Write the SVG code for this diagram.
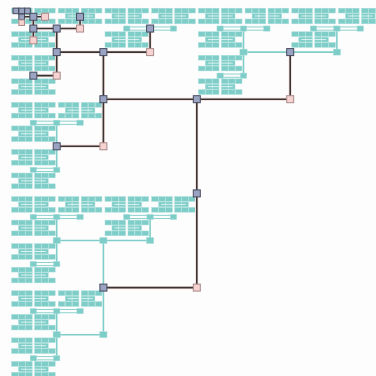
<svg xmlns="http://www.w3.org/2000/svg" width="376" height="376" viewBox="0 0 376 376">
<defs>
<style>
.b{fill:#7fcdc8;stroke:#a9dfdb;stroke-width:0.5}
.w{stroke:#e4f5f4;stroke-width:0.9}
.tl{fill:none;stroke:#80cec9;stroke-width:1.6}
.halo{fill:none;stroke:#f5e1df;stroke-width:3.4}
.dk{fill:none;stroke:#383434;stroke-width:1.6}
.nb{fill:#9aa4c2;stroke:#464b5e;stroke-width:1}
.np{fill:#f6d3d0;stroke:#a98a8a;stroke-width:1}
.cn{fill:#fdfdfd;stroke:#80cec9;stroke-width:0.9}
.tn{fill:#7fcdc8;stroke:#a9dfdb;stroke-width:0.5}
</style>
<g id="gp">
<rect class="b" x="1.6" y="3.2" width="6.6" height="4.8"/>
<rect class="b" x="8.6" y="3.2" width="6.6" height="4.8"/>
<rect class="b" x="15.6" y="3.2" width="6.6" height="4.8"/>
<rect class="b" x="24.6" y="3.2" width="6.6" height="4.8"/>
<rect class="b" x="31.6" y="3.2" width="6.6" height="4.8"/>
<rect class="b" x="38.6" y="3.2" width="6.6" height="4.8"/>
<rect class="b" x="8.6" y="8.6" width="6.6" height="4.8"/>
<rect class="b" x="15.6" y="8.6" width="6.6" height="4.8"/>
<rect class="b" x="24.6" y="8.6" width="6.6" height="4.8"/>
<rect class="b" x="31.6" y="8.6" width="6.6" height="4.8"/>
<line class="w" x1="11" y1="11" x2="36" y2="11"/>
<rect class="b" x="1.6" y="14" width="6.6" height="4.8"/>
<rect class="b" x="8.6" y="14" width="6.6" height="4.8"/>
<rect class="b" x="15.6" y="14" width="6.6" height="4.8"/>
<rect class="b" x="24.6" y="14" width="6.6" height="4.8"/>
<rect class="b" x="31.6" y="14" width="6.6" height="4.8"/>
<rect class="b" x="38.6" y="14" width="6.6" height="4.8"/>
</g>
<rect id="tb" class="tn" x="-3.2" y="-2.6" width="6.4" height="5.2"/>
<rect id="tm" class="tn" x="-3.6" y="-3" width="7.2" height="6"/>
<rect id="db" class="nb" x="-3.5" y="-3.5" width="7" height="7"/>
<rect id="dp" class="np" x="-3.5" y="-3.5" width="7" height="7"/>
<rect id="sb" class="nb" x="-2.8" y="-2.8" width="5.6" height="5.6"/>
<rect id="sp" class="np" x="-2.8" y="-2.8" width="5.6" height="5.6"/>
</defs>
<rect width="376" height="376" fill="#fdfdfd"/>

<g id="glyphs">
<use href="#gp" x="10" y="5"/><use href="#gp" x="56.7" y="5"/><use href="#gp" x="103.4" y="5"/><use href="#gp" x="150.1" y="5"/>
<use href="#gp" x="196.8" y="5"/><use href="#gp" x="243.5" y="5"/><use href="#gp" x="290.2" y="5"/><use href="#gp" x="336.9" y="5"/>
<use href="#gp" x="10" y="28.55"/><use href="#gp" x="103.4" y="28.55"/><use href="#gp" x="196.8" y="28.55"/><use href="#gp" x="290.2" y="28.55"/>
<use href="#gp" x="10" y="52.1"/><use href="#gp" x="196.8" y="52.1"/>
<use href="#gp" x="10" y="75.65"/><use href="#gp" x="196.8" y="75.65"/>
<use href="#gp" x="10" y="99.2"/><use href="#gp" x="56.7" y="99.2"/>
<use href="#gp" x="10" y="122.75"/>
<use href="#gp" x="10" y="146.3"/>
<use href="#gp" x="10" y="169.85"/>
<use href="#gp" x="10" y="193.4"/><use href="#gp" x="56.7" y="193.4"/><use href="#gp" x="103.4" y="193.4"/><use href="#gp" x="150.1" y="193.4"/>
<use href="#gp" x="10" y="216.95"/><use href="#gp" x="103.4" y="216.95"/>
<use href="#gp" x="10" y="240.5"/>
<use href="#gp" x="10" y="264.05"/>
<use href="#gp" x="10" y="287.6"/><use href="#gp" x="56.7" y="287.6"/>
<use href="#gp" x="10" y="311.15"/>
<use href="#gp" x="10" y="334.7"/>
<use href="#gp" x="10" y="358.25"/>
</g>

<g id="connectors">
<g id="teal-lines">
<path class="tl" d="M243.5 52.1H336.9 M243.5 28.55V75.65 M336.9 28.55V52.1 M56.7 240.5H150.1 M103.4 240.5V334.7H56.7 M56.7 216.95V264.05 M150.1 216.95V240.5 M56.7 311.15V358.25 M56.7 122.75V169.85"/>
<rect class="cn" x="126.75" y="26.95" width="46.7" height="3.2"/>
<rect class="cn" x="220.15" y="26.95" width="46.7" height="3.2"/>
<rect class="cn" x="313.55" y="26.95" width="46.7" height="3.2"/>
<rect class="cn" x="220.15" y="74.05" width="23.35" height="3.2"/>
<rect class="cn" x="33.35" y="121.15" width="46.7" height="3.2"/>
<rect class="cn" x="33.35" y="168.25" width="23.35" height="3.2"/>
<rect class="cn" x="33.35" y="215.35" width="46.7" height="3.2"/>
<rect class="cn" x="126.75" y="215.35" width="46.7" height="3.2"/>
<rect class="cn" x="33.35" y="262.45" width="23.35" height="3.2"/>
<rect class="cn" x="33.35" y="309.55" width="46.7" height="3.2"/>
<rect class="cn" x="33.35" y="356.65" width="23.35" height="3.2"/>
</g>
<g id="dark-lines">
<path class="halo" d="M103.4 99.2H290.2V52.1 M196.8 99.2V287.6H103.4 M103.4 52.1V146.3H56.7 M56.7 52.1H150.1V28.55 M56.7 28.55V75.65H33.35 M33.35 28.55H80.05V16.78 M33.35 16.78V40.33 M21.68 16.78H45.03 M15.84 10.89H27.51 M21.68 10.89V22.66"/>
<path class="dk" d="M103.4 99.2H290.2V52.1 M196.8 99.2V287.6H103.4 M103.4 52.1V146.3H56.7 M56.7 52.1H150.1V28.55 M56.7 28.55V75.65H33.35 M33.35 28.55H80.05V16.78 M33.35 16.78V40.33 M21.68 16.78H45.03 M15.84 10.89H27.51 M21.68 10.89V22.66"/>
</g>
</g>

<g id="teal-nodes">
<use href="#tb" x="126.75" y="28.55"/><use href="#tb" x="173.45" y="28.55"/>
<use href="#tb" x="220.15" y="28.55"/><use href="#tb" x="243.5" y="28.55"/><use href="#tb" x="266.85" y="28.55"/>
<use href="#tb" x="313.55" y="28.55"/><use href="#tb" x="336.9" y="28.55"/><use href="#tb" x="360.25" y="28.55"/>
<use href="#tb" x="220.15" y="75.65"/><use href="#tb" x="243.5" y="75.65"/>
<use href="#tb" x="33.35" y="122.75"/><use href="#tb" x="56.7" y="122.75"/><use href="#tb" x="80.05" y="122.75"/>
<use href="#tb" x="33.35" y="169.85"/><use href="#tb" x="56.7" y="169.85"/>
<use href="#tb" x="33.35" y="216.95"/><use href="#tb" x="56.7" y="216.95"/><use href="#tb" x="80.05" y="216.95"/>
<use href="#tb" x="126.75" y="216.95"/><use href="#tb" x="150.1" y="216.95"/><use href="#tb" x="173.45" y="216.95"/>
<use href="#tb" x="33.35" y="264.05"/><use href="#tb" x="56.7" y="264.05"/>
<use href="#tb" x="33.35" y="311.15"/><use href="#tb" x="56.7" y="311.15"/><use href="#tb" x="80.05" y="311.15"/>
<use href="#tb" x="33.35" y="358.25"/><use href="#tb" x="56.7" y="358.25"/>
<use href="#tm" x="243.5" y="52.1"/><use href="#tm" x="336.9" y="52.1"/>
<use href="#tm" x="56.7" y="240.5"/><use href="#tm" x="103.4" y="240.5"/><use href="#tm" x="150.1" y="240.5"/>
<use href="#tm" x="103.4" y="334.7"/><use href="#tm" x="56.7" y="334.7"/>
</g>

<g id="nodes">
<g id="n8-4"><use href="#db" x="196.8" y="99.2"/></g>
<g id="n4-4"><use href="#db" x="103.4" y="99.2"/></g>
<g id="n12-4"><use href="#dp" x="290.2" y="99.2"/></g>
<g id="n12-2"><use href="#db" x="290.2" y="52.1"/></g>
<g id="n8-8"><use href="#db" x="196.8" y="193.4"/></g>
<g id="n8-12"><use href="#dp" x="196.8" y="287.6"/></g>
<g id="n4-12"><use href="#db" x="103.4" y="287.6"/></g>
<g id="n4-2"><use href="#db" x="103.4" y="52.1"/></g>
<g id="n6-2"><use href="#dp" x="150.1" y="52.1"/></g>
<g id="n6-1"><use href="#db" x="150.1" y="28.55"/></g>
<g id="n2-2"><use href="#db" x="56.7" y="52.1"/></g>
<g id="n4-6"><use href="#dp" x="103.4" y="146.3"/></g>
<g id="n2-6"><use href="#db" x="56.7" y="146.3"/></g>
<g id="n2-3"><use href="#dp" x="56.7" y="75.65"/></g>
<g id="n1-3"><use href="#db" x="33.35" y="75.65"/></g>
<g id="n2-1"><use href="#db" x="56.7" y="28.55"/></g>
<g id="n1-1"><use href="#db" x="33.35" y="28.55"/></g>
<g id="n3-1"><use href="#dp" x="80.05" y="28.55"/></g>
<g id="n3-05"><use href="#db" x="80.05" y="16.78"/></g>
<g id="n1-05"><use href="#db" x="33.35" y="16.78"/></g>
<g id="n1-15"><use href="#dp" x="33.35" y="40.33"/></g>
<g id="n15-05"><use href="#dp" x="45.03" y="16.78"/></g>
<g id="n05-05"><use href="#sb" x="21.68" y="16.78"/></g>
<g id="n025-025"><use href="#sb" x="15.84" y="10.89"/></g>
<g id="n05-025"><use href="#sb" x="21.68" y="10.89"/></g>
<g id="n075-025"><use href="#sb" x="27.51" y="10.89"/></g>
<g id="n05-075"><use href="#sp" x="21.68" y="22.66"/></g>
</g>
</svg>
